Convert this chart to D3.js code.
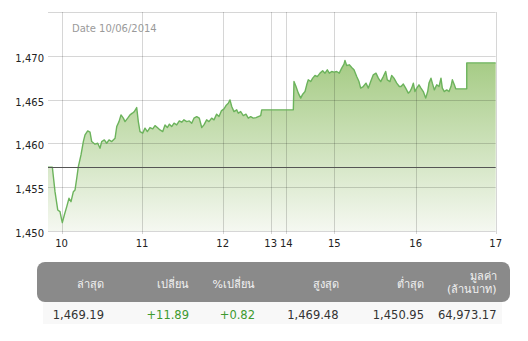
<!DOCTYPE html>
<html>
<head>
<meta charset="utf-8">
<script src="https://cdn.jsdelivr.net/npm/d3@7"></script>
<style>
  html, body { margin: 0; padding: 0; background: #fff; }
  svg { display: block; font-family: "DejaVu Sans", Tahoma, Verdana, sans-serif; }
</style>
</head>
<body>
<svg id="chart" width="528" height="341"></svg>
<script>
// intraday SET index, 10/06/2014 — [hour, index]
const series = [
  [9.832, 1457.28], [9.886, 1457.28], [9.919, 1454.49], [9.953, 1452.40], [9.981, 1452.21],
  [10.002, 1451.26], [10.010, 1450.95], [10.035, 1451.83], [10.065, 1452.78], [10.093, 1453.74],
  [10.118, 1453.35], [10.147, 1454.49], [10.168, 1454.69], [10.189, 1456.02], [10.209, 1457.35],
  [10.242, 1458.69], [10.271, 1460.21], [10.292, 1460.97], [10.325, 1461.43], [10.354, 1461.28],
  [10.375, 1460.21], [10.416, 1459.91], [10.450, 1460.02], [10.478, 1459.45], [10.499, 1460.21],
  [10.532, 1460.40], [10.561, 1460.02], [10.590, 1460.40], [10.624, 1460.21], [10.665, 1460.59],
  [10.686, 1461.92], [10.714, 1462.49], [10.739, 1463.26], [10.768, 1462.88], [10.789, 1462.49],
  [10.822, 1462.88], [10.851, 1463.26], [10.880, 1463.45], [10.904, 1463.63], [10.934, 1464.09],
  [10.954, 1462.49], [10.975, 1461.35], [11.009, 1461.17], [11.037, 1461.74], [11.066, 1461.35],
  [11.099, 1461.81], [11.133, 1461.66], [11.161, 1462.03], [11.190, 1461.81], [11.223, 1461.54],
  [11.257, 1461.35], [11.285, 1462.11], [11.314, 1461.81], [11.339, 1462.19], [11.368, 1461.92],
  [11.397, 1462.31], [11.430, 1462.11], [11.462, 1462.57], [11.492, 1462.42], [11.520, 1462.69],
  [11.554, 1462.49], [11.586, 1462.57], [11.616, 1462.31], [11.644, 1462.88], [11.678, 1463.06],
  [11.710, 1462.88], [11.740, 1461.81], [11.768, 1462.11], [11.801, 1462.69], [11.830, 1462.49],
  [11.863, 1462.88], [11.892, 1462.69], [11.925, 1463.34], [11.954, 1463.06], [11.983, 1463.71],
  [12.027, 1463.94], [12.069, 1464.32], [12.117, 1464.59], [12.152, 1464.97], [12.188, 1464.21],
  [12.235, 1463.63], [12.292, 1463.83], [12.325, 1463.45], [12.375, 1463.63], [12.429, 1463.18],
  [12.485, 1463.34], [12.533, 1462.88], [12.583, 1463.06], [12.638, 1462.88], [12.694, 1462.95],
  [12.742, 1463.06], [12.792, 1463.18], [12.813, 1463.83], [14.146, 1463.83], [14.160, 1467.06],
  [14.202, 1466.49], [14.250, 1465.74], [14.300, 1465.17], [14.342, 1465.62], [14.390, 1465.92],
  [14.425, 1466.69], [14.458, 1467.26], [14.508, 1467.06], [14.550, 1467.45], [14.598, 1467.75],
  [14.646, 1467.63], [14.702, 1468.02], [14.758, 1468.29], [14.806, 1468.02], [14.854, 1468.40],
  [14.896, 1468.02], [14.946, 1468.21], [14.994, 1468.14], [15.029, 1468.21], [15.061, 1468.02],
  [15.091, 1468.59], [15.119, 1469.05], [15.131, 1469.48], [15.152, 1468.89], [15.184, 1468.97],
  [15.214, 1468.66], [15.242, 1468.40], [15.275, 1467.63], [15.303, 1467.06], [15.324, 1466.31],
  [15.356, 1466.49], [15.389, 1466.88], [15.418, 1466.31], [15.447, 1467.06], [15.479, 1467.83],
  [15.512, 1468.02], [15.541, 1467.45], [15.570, 1467.06], [15.602, 1467.63], [15.631, 1468.21],
  [15.651, 1467.26], [15.684, 1467.06], [15.705, 1467.75], [15.733, 1467.45], [15.767, 1466.88],
  [15.799, 1466.49], [15.820, 1466.49], [15.848, 1466.77], [15.877, 1466.31], [15.909, 1465.74],
  [15.930, 1465.92], [15.951, 1466.31], [15.971, 1466.88], [15.991, 1465.92], [16.013, 1466.31],
  [16.041, 1466.69], [16.066, 1466.31], [16.095, 1465.92], [16.125, 1465.17], [16.150, 1465.92],
  [16.166, 1466.88], [16.191, 1467.45], [16.208, 1466.88], [16.233, 1466.11], [16.263, 1466.69],
  [16.291, 1466.49], [16.316, 1467.45], [16.333, 1466.31], [16.358, 1465.92], [16.388, 1466.11],
  [16.416, 1465.92], [16.441, 1466.49], [16.458, 1467.26], [16.483, 1466.69], [16.500, 1466.23],
  [16.638, 1466.23], [16.638, 1469.19], [17.000, 1469.19]
];

const prevClose = 1457.30;
const dateLabel = 'Date 10/06/2014';

// x axis is compressed around the lunch break, so hours map piecewise
const hourBreaks = [9.832, 10, 11, 12, 13, 14, 15, 16, 17];
const hourBreakFrac = [0, 0.0302, 0.2100, 0.3902, 0.4974, 0.5323, 0.6395, 0.8213, 1];
const hourTicks = [10, 11, 12, 13, 14, 15, 16, 17];
const yTicks = [1450, 1455, 1460, 1465, 1470, 1475];
const yLabelTicks = [1450, 1455, 1460, 1465, 1470];

const summaryHeads = [['ล่าสุด'], ['เปลี่ยน'], ['%เปลี่ยน'], ['สูงสุด'], ['ต่ำสุด'], ['มูลค่า', '(ล้านบาท)']];
const summaryValues = ['1,469.19', '+11.89', '+0.82', '1,469.48', '1,450.95', '64,973.17'];
const summaryUp = [false, true, true, false, false, false];

const svg = d3.select('#chart');
const plot = { left: 48, right: 495.7, top: 12, bottom: 231 };
const pw = plot.right - plot.left;

const x = d3.scaleLinear()
  .domain(hourBreaks)
  .range(hourBreakFrac.map(f => plot.left + f * pw));
const y = d3.scaleLinear().domain([1450, 1475]).range([plot.bottom, plot.top]);

const defs = svg.append('defs');
const grad = defs.append('linearGradient')
  .attr('id', 'fillGrad')
  .attr('gradientUnits', 'userSpaceOnUse')
  .attr('x1', 0).attr('x2', 0)
  .attr('y1', y(1469.5)).attr('y2', plot.bottom);
grad.append('stop').attr('offset', 0).attr('stop-color', '#a5cb84');
grad.append('stop').attr('offset', 1).attr('stop-color', '#f5f8f1');

const area = d3.area()
  .x(d => x(d[0]))
  .y0(plot.bottom)
  .y1(d => y(d[1]));
const line = d3.line()
  .x(d => x(d[0]))
  .y(d => y(d[1]));

svg.append('path').datum(series).attr('d', area).attr('fill', 'url(#fillGrad)');

// grid over the fill
const grid = svg.append('g').attr('stroke', 'rgba(0,0,0,0.16)').attr('stroke-width', 1);
grid.selectAll('line.h').data(yTicks).enter().append('line')
  .attr('class', 'h')
  .attr('x1', plot.left).attr('x2', plot.right)
  .attr('y1', d => Math.round(y(d)) + 0.5).attr('y2', d => Math.round(y(d)) + 0.5);
grid.selectAll('line.v').data(hourTicks).enter().append('line')
  .attr('class', 'v')
  .attr('x1', d => Math.round(x(d)) + 0.5).attr('x2', d => Math.round(x(d)) + 0.5)
  .attr('y1', plot.top).attr('y2', plot.bottom + 3);

svg.append('path').datum(series).attr('d', line)
  .attr('fill', 'none')
  .attr('stroke', '#6cb35c')
  .attr('stroke-width', 1.4)
  .attr('stroke-linejoin', 'round');

svg.append('line')
  .attr('x1', plot.left).attr('x2', plot.right)
  .attr('y1', Math.round(y(prevClose)) + 0.5).attr('y2', Math.round(y(prevClose)) + 0.5)
  .attr('stroke', '#555').attr('stroke-width', 1);

svg.append('text')
  .attr('x', 72).attr('y', 31.5)
  .attr('font-size', 10).attr('fill', '#9a9a9a')
  .text(dateLabel);

const fmt = d3.format(',');
svg.selectAll('text.ylab').data(yLabelTicks).enter().append('text')
  .attr('class', 'ylab')
  .attr('x', 44).attr('y', d => y(d) + 6)
  .attr('text-anchor', 'end')
  .attr('font-size', 10).attr('fill', '#222')
  .text(d => fmt(d));

svg.selectAll('text.xlab').data(hourTicks).enter().append('text')
  .attr('class', 'xlab')
  .attr('x', d => x(d)).attr('y', 247)
  .attr('text-anchor', 'middle')
  .attr('font-size', 10).attr('fill', '#222')
  .text(d => d);

// summary table
const colRight = [104, 189, 255, 338.5, 424, 496.5];
svg.append('rect')
  .attr('x', 43).attr('y', 302).attr('width', 459).attr('height', 22)
  .attr('fill', '#f8f8f8');
svg.append('rect')
  .attr('x', 37).attr('y', 262).attr('width', 473).attr('height', 40)
  .attr('rx', 8)
  .attr('fill', '#8a8a8a');

const heads = svg.selectAll('text.head').data(summaryHeads).enter().append('text')
  .attr('class', 'head')
  .attr('text-anchor', 'end')
  .attr('font-size', 11).attr('fill', '#f2f2f2');
heads.each(function (lines, i) {
  const t = d3.select(this);
  const y0 = lines.length === 1 ? 288 : 279.5;
  lines.forEach((s, k) => {
    t.append('tspan').attr('x', colRight[i]).attr('y', y0 + k * 13.5).text(s);
  });
});

svg.selectAll('text.val').data(summaryValues).enter().append('text')
  .attr('class', 'val')
  .attr('x', (d, i) => colRight[i]).attr('y', 318.5)
  .attr('text-anchor', 'end')
  .attr('font-size', 11.5)
  .attr('fill', (d, i) => summaryUp[i] ? '#3e9a2f' : '#333')
  .text(d => d);
</script>
</body>
</html>
